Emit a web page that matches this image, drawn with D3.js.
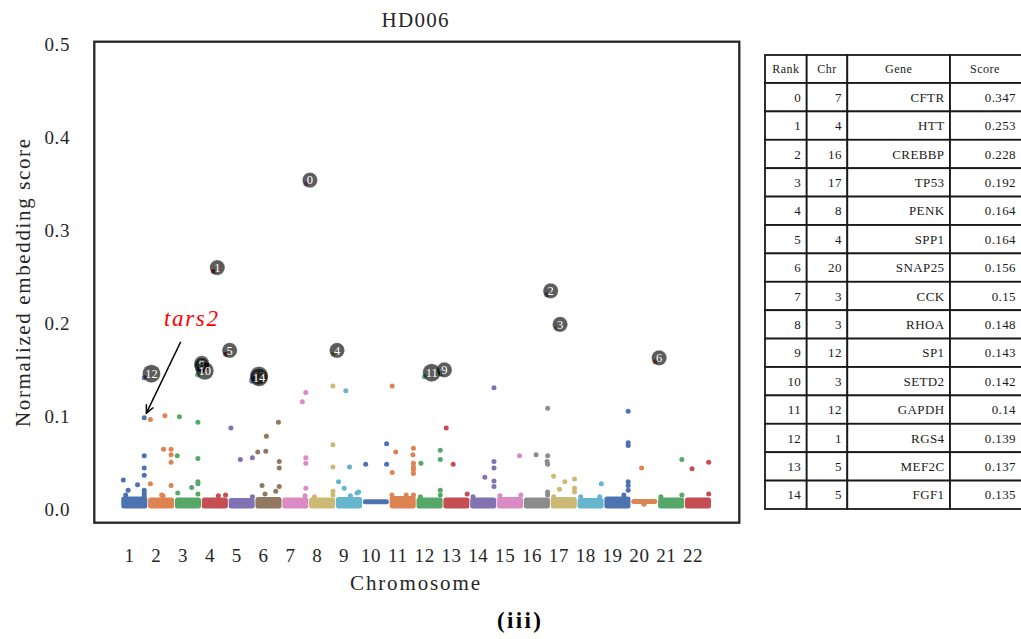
<!DOCTYPE html>
<html>
<head>
<meta charset="utf-8">
<script src="https://cdn.jsdelivr.net/npm/d3@7"></script>
<style>
  body { margin: 0; background: #fff; }
  svg { display: block; }
</style>
</head>
<body>
<svg id="chart" width="1021" height="639"></svg>
<script>
// ---- data -------------------------------------------------------------
const chromosomes = d3.range(1, 23);
const chrColors = ["#4C72B0", "#DD8452", "#55A868", "#C44E52", "#8172B3", "#937860",
  "#DA8BC3", "#CCB974", "#64B5CD", "#4C72B0", "#DD8452", "#55A868", "#C44E52",
  "#8172B3", "#DA8BC3", "#8C8C8C", "#CCB974", "#64B5CD", "#4C72B0", "#DD8452",
  "#55A868", "#C44E52"];

// dense mass of near-zero scores per chromosome (lower / upper score)
const bandLow = [0.001, 0.001, 0.001, 0.001, 0.001, 0.001, 0.001, 0.001, 0.001, 0.0055, 0.001,
  0.001, 0.001, 0.001, 0.001, 0.001, 0.001, 0.001, 0.001, 0.006, 0.001, 0.001];
const bandHigh = [0.0085, 0.0075, 0.0075, 0.0075, 0.007, 0.008, 0.0075, 0.0075, 0.008, 0.0055,
  0.009, 0.0075, 0.0075, 0.0075, 0.008, 0.0075, 0.008, 0.007, 0.0085, 0.006, 0.0075, 0.0075];

// individual genes above the mass: [chromosome, position within chromosome, score]
const scatterPoints = [
  [1, 0.87, 0.096], [1, 0.87, 0.055], [1, 0.87, 0.042], [1, 0.87, 0.034], [1, 0.09, 0.029],
  [1, 0.62, 0.024], [1, 0.27, 0.018], [1, 0.87, 0.018], [1, 0.18, 0.013], [1, 0.87, 0.015],
  [1, 0.87, 0.012],
  [2, 0.1, 0.094], [2, 0.64, 0.098], [2, 0.59, 0.062], [2, 0.87, 0.062], [2, 0.87, 0.056],
  [2, 0.87, 0.048], [2, 0.1, 0.025], [2, 0.87, 0.023], [2, 0.52, 0.013], [2, 0.57, 0.012],
  [3, 0.18, 0.097], [3, 0.87, 0.091], [3, 0.1, 0.055], [3, 0.87, 0.052], [3, 0.64, 0.021],
  [3, 0.87, 0.027], [3, 0.87, 0.025], [3, 0.12, 0.015], [3, 0.87, 0.014],
  [4, 0.63, 0.012], [4, 0.9, 0.013],
  [5, 0.1, 0.085], [5, 0.45, 0.051], [5, 0.9, 0.053], [5, 0.9, 0.011],
  [6, 0.87, 0.091], [6, 0.42, 0.076], [6, 0.1, 0.059], [6, 0.4, 0.06], [6, 0.9, 0.049],
  [6, 0.9, 0.042], [6, 0.26, 0.023], [6, 0.37, 0.014], [6, 0.77, 0.017], [6, 0.9, 0.022],
  [7, 0.89, 0.123], [7, 0.76, 0.113], [7, 0.89, 0.053], [7, 0.89, 0.047], [7, 0.89, 0.02],
  [7, 0.86, 0.012],
  [8, 0.9, 0.13], [8, 0.9, 0.067], [8, 0.9, 0.043], [8, 0.9, 0.017], [8, 0.9, 0.013],
  [8, 0.21, 0.011],
  [9, 0.38, 0.125], [9, 0.52, 0.043], [9, 0.11, 0.027], [9, 0.32, 0.02], [9, 0.86, 0.016],
  [9, 0.55, 0.012], [9, 0.8, 0.015],
  [10, 0.12, 0.046], [10, 0.9, 0.068], [10, 0.9, 0.046],
  [11, 0.11, 0.13], [11, 0.24, 0.059], [11, 0.11, 0.037], [11, 0.9, 0.063], [11, 0.88, 0.056],
  [11, 0.9, 0.047], [11, 0.9, 0.043], [11, 0.9, 0.04], [11, 0.9, 0.036], [11, 0.63, 0.013],
  [11, 0.9, 0.013], [11, 0.1, 0.013],
  [12, 0.18, 0.047], [12, 0.9, 0.061], [12, 0.9, 0.051], [12, 0.9, 0.018], [12, 0.9, 0.013],
  [12, 0.16, 0.011],
  [13, 0.12, 0.085], [13, 0.38, 0.046], [13, 0.9, 0.014],
  [14, 0.9, 0.128], [14, 0.9, 0.049], [14, 0.9, 0.042], [14, 0.56, 0.032], [14, 0.9, 0.028],
  [14, 0.9, 0.022], [14, 0.12, 0.011],
  [15, 0.85, 0.055], [15, 0.12, 0.012], [15, 0.9, 0.013],
  [16, 0.9, 0.106], [16, 0.47, 0.056], [16, 0.9, 0.055], [16, 0.88, 0.049], [16, 0.9, 0.046],
  [16, 0.9, 0.016], [16, 0.9, 0.013],
  [17, 0.12, 0.033], [17, 0.54, 0.027], [17, 0.9, 0.03], [17, 0.34, 0.019], [17, 0.9, 0.02],
  [17, 0.13, 0.011], [17, 0.9, 0.016],
  [18, 0.9, 0.025], [18, 0.13, 0.011], [18, 0.84, 0.011],
  [19, 0.9, 0.103], [19, 0.9, 0.069], [19, 0.9, 0.066], [19, 0.9, 0.027], [19, 0.9, 0.023],
  [19, 0.9, 0.018], [19, 0.74, 0.013],
  [20, 0.4, 0.042], [20, 0.49, 0.003],
  [21, 0.9, 0.051], [21, 0.9, 0.013], [21, 0.12, 0.011],
  [22, 0.28, 0.041], [22, 0.9, 0.048], [22, 0.9, 0.014]
];

// top ranked genes
const rankGene = ["CFTR", "HTT", "CREBBP", "TP53", "PENK", "SPP1", "SNAP25", "CCK", "RHOA",
  "SP1", "SETD2", "GAPDH", "RGS4", "MEF2C", "FGF1"];
const rankChr = [7, 4, 16, 17, 8, 4, 20, 3, 3, 12, 3, 12, 1, 5, 5];
const rankScore = [0.347, 0.253, 0.228, 0.192, 0.164, 0.164, 0.156, 0.15, 0.148, 0.143,
  0.142, 0.14, 0.139, 0.137, 0.135];
const rankPos = [0.89, 0.44, 0.86, 0.21, 0.9, 0.9, 0.9, 0.86, 0.86, 0.9, 0.86, 0.31, 0.87, 0.88, 0.88];

const yTicks = [0.0, 0.1, 0.2, 0.3, 0.4, 0.5];
const tableHeader = ["Rank", "Chr", "Gene", "Score"];

// highlighted gene callout
const calloutLabel = "tars2";
const calloutTarget = [1, 0.87, 0.096];   // chromosome, position, score
const calloutText = [2.61, 0.195];        // genome units, score
const calloutStart = [2.23, 0.1776];

// ---- layout -----------------------------------------------------------
const svg = d3.select("#chart");
const serif = "'Liberation Serif', 'Times New Roman', serif";
const frame = { left: 94.3, right: 739.3, top: 41.7, bottom: 522.7 };

const x = d3.scaleLinear().domain([-0.99, 23.04]).range([frame.left, frame.right]);
const y = d3.scaleLinear().domain([-0.0169, 0.5]).range([frame.bottom, frame.top]);
const gpos = (c, p) => x(c - 1 + p);
const dotR = 2.5;

// title
svg.append("text").attr("x", 415).attr("y", 27).attr("text-anchor", "middle")
  .attr("font-family", serif).attr("font-size", 21).attr("fill", "#262626")
  .attr("textLength", 67).attr("lengthAdjust", "spacing").text("HD006");

// y tick labels (no tick marks)
const yAxis = d3.axisLeft(y).tickValues(yTicks).tickFormat(d3.format(".1f")).tickSize(0).tickPadding(0);
const gy = svg.append("g").attr("transform", `translate(70,0)`).call(yAxis);
gy.select(".domain").remove();
gy.selectAll("text").attr("font-family", serif).attr("font-size", 19).attr("fill", "#262626")
  .attr("dy", null).attr("y", 8.3).attr("letter-spacing", 0.6);

// x tick labels
const xAxis = d3.axisBottom(x).tickValues(chromosomes.map(c => c - 0.7)).tickSize(0)
  .tickFormat((d, i) => String(chromosomes[i]));
const gx = svg.append("g").attr("transform", `translate(0,${frame.bottom})`).call(xAxis);
gx.select(".domain").remove();
gx.selectAll("text").attr("font-family", serif).attr("font-size", 19).attr("fill", "#262626")
  .attr("dy", null).attr("y", 39).attr("letter-spacing", 0.6);

// axis titles
svg.append("text").attr("x", 415).attr("y", 590).attr("text-anchor", "middle")
  .attr("font-family", serif).attr("font-size", 21).attr("fill", "#262626")
  .attr("textLength", 130).attr("lengthAdjust", "spacing").text("Chromosome");
svg.append("text").attr("transform", "translate(29.5,283) rotate(-90)").attr("text-anchor", "middle")
  .attr("font-family", serif).attr("font-size", 21).attr("fill", "#262626")
  .attr("textLength", 288).attr("lengthAdjust", "spacing").text("Normalized embedding score");

// plot content
const plot = svg.append("g");

// dense low-score mass per chromosome
plot.selectAll("rect.band").data(chromosomes).join("rect").attr("class", "band")
  .attr("x", c => x(c - 1) + 0.4)
  .attr("width", c => x(c) - x(c - 1) - 0.8)
  .attr("y", (c, i) => y(bandHigh[i]) - dotR)
  .attr("height", (c, i) => y(bandLow[i]) - y(bandHigh[i]) + 2 * dotR)
  .attr("rx", dotR)
  .attr("fill", (c, i) => chrColors[i]);

// individual genes
plot.selectAll("circle.pt").data(scatterPoints).join("circle").attr("class", "pt")
  .attr("cx", d => gpos(d[0], d[1])).attr("cy", d => y(d[2])).attr("r", dotR)
  .attr("fill", d => chrColors[d[0] - 1]);

// top ranked genes
const ranks = rankGene.map((g, i) => ({ rank: i, gene: g, chr: rankChr[i], score: rankScore[i], pos: rankPos[i] }));
plot.selectAll("circle.top").data(ranks).join("circle").attr("class", "top")
  .attr("cx", d => gpos(d.chr, d.pos)).attr("cy", d => y(d.score)).attr("r", dotR)
  .attr("fill", d => chrColors[d.chr - 1]);

// rank badges
const badges = plot.selectAll("g.badge").data(ranks).join("g").attr("class", "badge");
badges.each(function (d) {
  const g = d3.select(this);
  const px = gpos(d.chr, d.pos), py = y(d.score);
  const label = String(d.rank);
  const w = label.length * 6.2;
  const cx = px + 1 + w / 2, cy = py - 4;
  g.append("circle").attr("cx", cx).attr("cy", cy).attr("r", label.length > 1 ? 9 : 7.6)
    .attr("fill", "#000").attr("fill-opacity", 0.64)
    .attr("stroke", "#fff").attr("stroke-opacity", 0.35).attr("stroke-width", 0.6);
  g.append("text").attr("x", cx).attr("y", cy + 4.2).attr("text-anchor", "middle")
    .attr("font-family", serif).attr("font-size", 12.5).attr("fill", "#fff").text(label);
});

// callout
const tgt = [gpos(calloutTarget[0], calloutTarget[1]), y(calloutTarget[2])];
const st = [x(calloutStart[0]), y(calloutStart[1])];
const dx = tgt[0] - st[0], dy = tgt[1] - st[1], len = Math.hypot(dx, dy);
const ux = dx / len, uy = dy / len;
const tip = [tgt[0] - ux * 5, tgt[1] - uy * 5];
svg.append("line").attr("x1", st[0]).attr("y1", st[1]).attr("x2", tip[0]).attr("y2", tip[1])
  .attr("stroke", "#000").attr("stroke-width", 1.5);
const headLen = 9, ang = Math.PI / 7;
const back = Math.atan2(-uy, -ux);
const headPath = d3.path();
headPath.moveTo(tip[0] + headLen * Math.cos(back + ang), tip[1] + headLen * Math.sin(back + ang));
headPath.lineTo(tip[0], tip[1]);
headPath.lineTo(tip[0] + headLen * Math.cos(back - ang), tip[1] + headLen * Math.sin(back - ang));
svg.append("path").attr("d", headPath.toString()).attr("fill", "none")
  .attr("stroke", "#000").attr("stroke-width", 1.5).attr("stroke-linejoin", "miter");
svg.append("text").attr("x", x(calloutText[0])).attr("y", y(calloutText[1]))
  .attr("text-anchor", "middle").attr("font-family", serif).attr("font-style", "italic")
  .attr("font-size", 23).attr("fill", "#ff0000").attr("textLength", 54)
  .attr("lengthAdjust", "spacing").text(calloutLabel);

// frame
svg.append("rect").attr("x", frame.left).attr("y", frame.top)
  .attr("width", frame.right - frame.left).attr("height", frame.bottom - frame.top)
  .attr("fill", "none").attr("stroke", "#262626").attr("stroke-width", 2.3);

// ranking table
const colEdges = [765, 806.7, 847.3, 950, 1024];
const headTop = 55, headBottom = 83, rowH = 28.4;
const tbl = svg.append("g");
const rowsData = ranks.map(d => [String(d.rank), String(d.chr), d.gene, String(d.score)]);
tableHeader.forEach((h, j) => {
  tbl.append("rect").attr("x", colEdges[j]).attr("y", headTop)
    .attr("width", colEdges[j + 1] - colEdges[j]).attr("height", headBottom - headTop)
    .attr("fill", "#fff").attr("stroke", "#1a1a1a").attr("stroke-width", 1.8);
  tbl.append("text").attr("x", (colEdges[j] + colEdges[j + 1]) / 2 - (j === 3 ? 2 : 0))
    .attr("y", headTop + 18.3).attr("text-anchor", "middle")
    .attr("font-family", serif).attr("font-size", 12).attr("letter-spacing", 0.5)
    .attr("fill", "#1a1a1a").text(h);
});
rowsData.forEach((row, i) => {
  const top = headBottom + i * rowH;
  row.forEach((v, j) => {
    tbl.append("rect").attr("x", colEdges[j]).attr("y", top)
      .attr("width", colEdges[j + 1] - colEdges[j]).attr("height", rowH)
      .attr("fill", "#fff").attr("stroke", "#1a1a1a").attr("stroke-width", 1.8);
    const right = j === 3 ? 1016 : colEdges[j + 1] - 5.5;
    tbl.append("text").attr("x", right).attr("y", top + rowH / 2 + 4.6)
      .attr("text-anchor", "end").attr("font-family", serif).attr("font-size", 13)
      .attr("letter-spacing", 0.4).attr("fill", "#1a1a1a").text(v);
  });
});

// panel label
svg.append("text").attr("x", 519).attr("y", 628).attr("text-anchor", "middle")
  .attr("font-family", serif).attr("font-weight", "bold").attr("font-size", 23)
  .attr("fill", "#000").attr("textLength", 44).attr("lengthAdjust", "spacing").text("(iii)");
</script>
</body>
</html>
